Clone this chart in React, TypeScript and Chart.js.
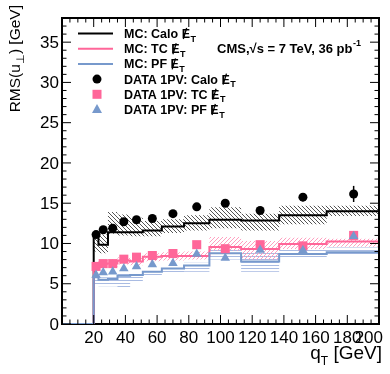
import React, { useEffect, useRef } from 'react';
import { Chart, registerables } from 'chart.js';

Chart.register(...registerables);

// ---- data ----
const binEdges = [20, 23, 29, 35, 43, 51, 63, 77, 93, 113, 137, 167, 200];
const qtCenters = [21.5, 26, 32, 39, 47, 57, 70, 85, 103, 125, 152, 184];

const mcCalo = [11.3, 9.85, 11.4, 11.4, 11.4, 11.6, 12.1, 12.5, 12.95, 12.85, 13.5, 14.0];
const mcCaloLo = [9.0, 8.8, 11.2, 11.0, 10.9, 10.9, 11.3, 11.6, 11.9, 11.6, 12.4, 13.4];
const mcCaloHi = [11.3, 11.1, 13.9, 13.6, 13.2, 12.8, 13.0, 13.5, 14.5, 13.7, 14.7, 14.7];

const mcTC = [7.3, 7.5, 7.5, 7.9, 7.75, 8.35, 8.45, 8.45, 9.55, 9.3, 9.95, 10.25];
const mcTCLo = [6.9, 7.0, 7.1, 7.4, 7.3, 7.8, 7.9, 8.0, 9.1, 8.0, 9.3, 9.6];
const mcTCHi = [7.7, 7.9, 8.0, 8.3, 8.2, 8.8, 8.9, 9.0, 10.8, 10.3, 10.7, 10.6];

const mcPF = [5.8, 5.5, 5.6, 6.0, 6.1, 6.5, 6.9, 7.25, 8.8, 7.75, 8.7, 8.9];
const mcPFLo = [4.8, 4.7, 4.7, 4.6, 5.2, 5.9, 6.3, 6.5, 8.0, 6.5, 8.2, 8.6];
const mcPFHi = [6.0, 5.8, 5.8, 6.2, 6.3, 6.7, 7.2, 7.6, 9.6, 9.0, 9.2, 9.5];

const dataCalo = [11.1, 11.7, 11.9, 12.7, 12.95, 13.1, 13.7, 14.55, 15.0, 14.1, 15.75, 16.15];
const dataCaloErr = [0.2, 0.2, 0.2, 0.2, 0.2, 0.25, 0.25, 0.3, 0.35, 0.4, 0.5, 1.0];
const dataTC = [7.15, 7.5, 7.5, 8.05, 8.3, 8.5, 8.75, 9.85, 9.35, 9.85, 9.7, 11.0];
const dataPF = [6.1, 6.4, 6.5, 6.9, 7.15, 7.4, 7.55, 8.7, 8.2, 9.2, 9.15, 10.9];

const xTickLabels = ['20', '40', '60', '80', '100', '120', '140', '160', '180', '200'];
const yTickLabels = ['0', '5', '10', '15', '20', '25', '30', '35'];

const legendEntries = [
  { label: 'MC: Calo ', kind: 'line', color: '#000000' },
  { label: 'MC: TC ', kind: 'line', color: '#ff6699' },
  { label: 'MC: PF ', kind: 'line', color: '#7799cc' },
  { label: 'DATA 1PV: Calo ', kind: 'circle', color: '#000000' },
  { label: 'DATA 1PV: TC ', kind: 'rect', color: '#ff6699' },
  { label: 'DATA 1PV: PF ', kind: 'triangle', color: '#7799cc' },
];

const BLACK = '#000000';
const PINK = '#ff6699';
const BLUE = '#7799cc';
const FONT = '"Liberation Sans", Arial, Helvetica, sans-serif';

// points for a 'before'-stepped line: level of bin i starts at its lower edge
function stepPoints(vals: number[], fromZero: boolean) {
  const pts: { x: number; y: number }[] = fromZero ? [{ x: 0, y: 0 }] : [];
  vals.forEach((v, i) => pts.push({ x: binEdges[i], y: v }));
  pts.push({ x: binEdges[binEdges.length - 1], y: vals[vals.length - 1] });
  return pts;
}

function pointsOf(vals: number[]) {
  return vals.map((v, i) => ({ x: qtCenters[i], y: v }));
}

function makePattern(kind: string, color: string, s: number) {
  const c = document.createElement('canvas');
  c.width = s;
  c.height = s;
  const g = c.getContext('2d')!;
  g.strokeStyle = color;
  g.lineWidth = 1;
  g.beginPath();
  if (kind === 'back') {
    for (const k of [-s, 0, s]) {
      g.moveTo(k, 0);
      g.lineTo(k + s, s);
    }
  } else if (kind === 'fwd') {
    for (const k of [-s, 0, s]) {
      g.moveTo(k, s);
      g.lineTo(k + s, 0);
    }
  } else {
    g.moveTo(0, s / 2);
    g.lineTo(s, s / 2);
  }
  g.stroke();
  return g.createPattern(c, 'repeat')!;
}

function drawMET(ctx: CanvasRenderingContext2D, x: number, base: number, size: number) {
  ctx.font = `bold ${size}px ${FONT}`;
  ctx.fillText('E', x, base);
  const w = ctx.measureText('E').width;
  const cap = size * 0.72;
  ctx.save();
  ctx.lineWidth = 1.3;
  ctx.beginPath();
  ctx.moveTo(x + w * 0.2, base + 1);
  ctx.lineTo(x + w * 0.6, base - cap - 1);
  ctx.stroke();
  ctx.restore();
  ctx.font = `bold ${Math.round(size * 0.72)}px ${FONT}`;
  ctx.fillText('T', x + w + 0.5, base + 3.5);
}

const rootPlugin = {
  id: 'rootStyle',
  beforeDatasetsDraw(chart: any) {
    const { ctx, chartArea } = chart;
    const { left, right, top, bottom } = chartArea;
    ctx.save();
    ctx.strokeStyle = BLACK;
    ctx.lineWidth = 2;
    ctx.strokeRect(left, top, right - left, bottom - top);
    ctx.restore();
  },
  afterDatasetsDraw(chart: any) {
    const { ctx, chartArea, scales } = chart;
    const { left, right, top, bottom } = chartArea;
    const xs = scales.x;
    const ys = scales.y;
    ctx.save();

    // error bars on Calo data
    ctx.strokeStyle = BLACK;
    ctx.lineWidth = 1.5;
    dataCalo.forEach((v, i) => {
      const px = xs.getPixelForValue(qtCenters[i]);
      ctx.beginPath();
      ctx.moveTo(px, ys.getPixelForValue(v - dataCaloErr[i]));
      ctx.lineTo(px, ys.getPixelForValue(v + dataCaloErr[i]));
      ctx.stroke();
    });

    // frame (left/top/right on top of data; bottom left under the MC lines)
    ctx.lineWidth = 2;
    ctx.beginPath();
    ctx.moveTo(left, bottom);
    ctx.lineTo(left, top);
    ctx.lineTo(right, top);
    ctx.lineTo(right, bottom);
    ctx.stroke();

    // ticks (inward, mirrored)
    ctx.lineWidth = 1;
    ctx.beginPath();
    for (let v = 0; v <= 200; v += 5) {
      const px = xs.getPixelForValue(v);
      const len = v % 20 === 0 ? 9 : 4.5;
      ctx.moveTo(px, bottom);
      ctx.lineTo(px, bottom - len);
      ctx.moveTo(px, top);
      ctx.lineTo(px, top + len);
    }
    for (let v = 0; v <= 38; v += 1) {
      const py = ys.getPixelForValue(v);
      const len = v % 5 === 0 ? 9 : 4.5;
      ctx.moveTo(left, py);
      ctx.lineTo(left + len, py);
      ctx.moveTo(right, py);
      ctx.lineTo(right - len, py);
    }
    ctx.stroke();

    // tick labels
    ctx.fillStyle = BLACK;
    ctx.font = `17px ${FONT}`;
    ctx.textAlign = 'center';
    ctx.textBaseline = 'alphabetic';
    xTickLabels.forEach((t) => {
      const w = ctx.measureText(t).width;
      let px = xs.getPixelForValue(parseFloat(t));
      px = Math.min(px, right + 4 - w / 2);
      ctx.fillText(t, px, bottom + 19);
    });
    ctx.textAlign = 'right';
    ctx.textBaseline = 'middle';
    yTickLabels.forEach((t) => {
      ctx.fillText(t, left - 3, ys.getPixelForValue(parseFloat(t)) + 1);
    });

    // x title: q_T [GeV]
    ctx.textBaseline = 'alphabetic';
    ctx.textAlign = 'left';
    const big = `19px ${FONT}`;
    const small = `12px ${FONT}`;
    ctx.font = big;
    const wq = ctx.measureText('q').width;
    const wrest = ctx.measureText(' [GeV]').width;
    ctx.font = small;
    const wT = ctx.measureText('T').width;
    const xt = right + 3 - (wq + wT + wrest);
    const bt = bottom + 35;
    ctx.font = big;
    ctx.fillText('q', xt, bt);
    ctx.font = small;
    ctx.fillText('T', xt + wq, bt + 6);
    ctx.font = big;
    ctx.fillText(' [GeV]', xt + wq + wT, bt);

    // y title: RMS(u_perp) [GeV]
    ctx.save();
    ctx.translate(20, 5);
    ctx.rotate(-Math.PI / 2);
    const ybig = `15.5px ${FONT}`;
    const ysmall = `11px ${FONT}`;
    ctx.font = ybig;
    const w1 = ctx.measureText('RMS(u').width;
    const w3 = ctx.measureText(') [GeV]').width;
    ctx.font = ysmall;
    const w2 = ctx.measureText('\u22A5').width;
    const yt = -(w1 + w2 + w3);
    ctx.font = ybig;
    ctx.fillText('RMS(u', yt, 0);
    ctx.font = ysmall;
    ctx.fillText('\u22A5', yt + w1, 4);
    ctx.font = ybig;
    ctx.fillText(') [GeV]', yt + w1 + w2, 0);
    ctx.restore();

    // legend
    const lsize = 12.5;
    legendEntries.forEach((e, i) => {
      const cy = 33.5 + 15.2 * i;
      ctx.fillStyle = e.color;
      ctx.strokeStyle = e.color;
      if (e.kind === 'line') {
        ctx.lineWidth = 2;
        ctx.beginPath();
        ctx.moveTo(78, cy);
        ctx.lineTo(113, cy);
        ctx.stroke();
      } else if (e.kind === 'circle') {
        ctx.beginPath();
        ctx.arc(97, cy, 4.5, 0, Math.PI * 2);
        ctx.fill();
      } else if (e.kind === 'rect') {
        ctx.fillRect(97 - 4.5, cy - 4.5, 9, 9);
      } else {
        ctx.beginPath();
        ctx.moveTo(97, cy - 5.5);
        ctx.lineTo(97 + 5, cy + 3.5);
        ctx.lineTo(97 - 5, cy + 3.5);
        ctx.closePath();
        ctx.fill();
      }
      ctx.fillStyle = BLACK;
      ctx.strokeStyle = BLACK;
      ctx.font = `bold ${lsize}px ${FONT}`;
      ctx.textAlign = 'left';
      ctx.textBaseline = 'alphabetic';
      const base = cy + 4.5;
      ctx.fillText(e.label, 124, base);
      const w = ctx.measureText(e.label).width;
      drawMET(ctx, 124 + w, base, lsize);
    });

    // CMS label
    ctx.fillStyle = BLACK;
    ctx.font = `bold 13px ${FONT}`;
    const cms = 'CMS,\u221As = 7 TeV, 36 pb';
    ctx.fillText(cms, 217, 53);
    const wc = ctx.measureText(cms).width;
    ctx.font = `bold 9px ${FONT}`;
    ctx.fillText('-1', 217 + wc + 0.5, 46);

    ctx.restore();
  },
};

export default function App() {
  const ref = useRef<HTMLCanvasElement>(null);

  useEffect(() => {
    if (!ref.current) return;
    const patBlack = makePattern('back', '#555555', 4);
    const patPink = makePattern('fwd', '#ff9fc0', 4);
    const patBlue = makePattern('horiz', '#a9bbe2', 3);

    const band = (hi: number[], lo: number[], pat: any) => [
      {
        data: stepPoints(hi, false),
        stepped: 'before',
        borderColor: 'rgba(0,0,0,0)',
        borderWidth: 0,
        pointRadius: 0,
        fill: '+1',
        backgroundColor: pat,
        order: 5,
      },
      {
        data: stepPoints(lo, false),
        stepped: 'before',
        borderColor: 'rgba(0,0,0,0)',
        borderWidth: 0,
        pointRadius: 0,
        fill: false,
        order: 5,
      },
    ];
    const mcLine = (vals: number[], color: string, order: number) => ({
      data: stepPoints(vals, true),
      stepped: 'before',
      borderColor: color,
      borderWidth: 2,
      pointRadius: 0,
      fill: false,
      order,
    });
    const markers = (vals: number[], color: string, style: string, r: number, order: number) => ({
      data: pointsOf(vals),
      showLine: false,
      pointStyle: style,
      pointRadius: r,
      pointBackgroundColor: color,
      pointBorderColor: color,
      pointBorderWidth: 0,
      backgroundColor: color,
      borderColor: color,
      order,
    });

    const chart = new Chart(ref.current, {
      type: 'line',
      data: {
        datasets: [
          ...band(mcCaloHi, mcCaloLo, patBlack),
          ...band(mcTCHi, mcTCLo, patPink),
          ...band(mcPFHi, mcPFLo, patBlue),
          mcLine(mcCalo, BLACK, 4),
          mcLine(mcTC, PINK, 3),
          mcLine(mcPF, BLUE, 2),
          markers(dataCalo, BLACK, 'circle', 4.5, 1),
          markers(dataTC, PINK, 'rect', 6.4, 1),
          markers(dataPF, BLUE, 'triangle', 5.5, 0),
        ] as any,
      },
      options: {
        animation: false,
        responsive: false,
        events: [],
        layout: { padding: { left: 62, right: 11, top: 18, bottom: 50 } },
        plugins: {
          legend: { display: false },
          tooltip: { enabled: false },
        },
        scales: {
          x: { type: 'linear', min: 0, max: 200, display: false },
          y: { type: 'linear', min: 0, max: 38, display: false },
        },
      },
      plugins: [rootPlugin],
    });
    return () => chart.destroy();
  }, []);

  return (
    <div style={{ position: 'absolute', left: 0, top: 0, width: 390, height: 374, background: '#fff' }}>
      <canvas ref={ref} width={390} height={374} style={{ display: 'block' }} />
    </div>
  );
}
